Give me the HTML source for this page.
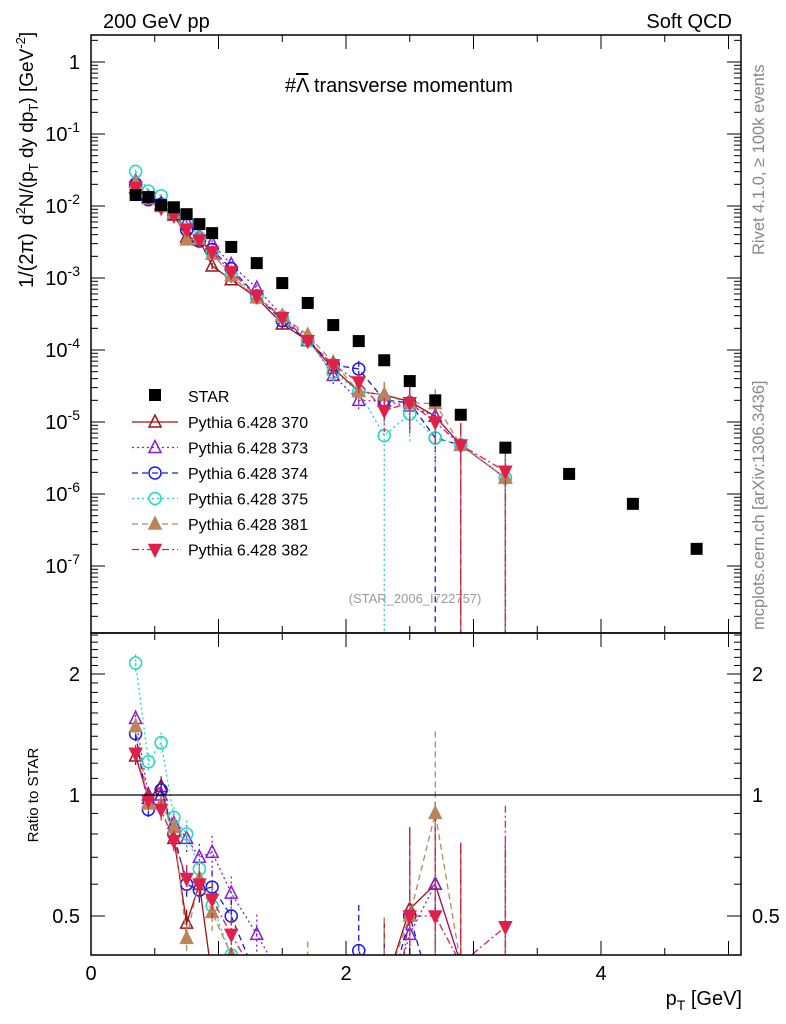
<!DOCTYPE html>
<html><head><meta charset="utf-8">
<style>
html,body{margin:0;background:#fff;overflow:hidden;width:786px;height:1024px;}
svg{display:block;font-family:"Liberation Sans",sans-serif;}
</style></head>
<body>
<svg id="c" width="786" height="1024" viewBox="0 0 786 1024" xmlns="http://www.w3.org/2000/svg">
<text x="103" y="28" font-size="20">200 GeV pp</text>
<text x="732" y="28" font-size="20" text-anchor="end">Soft QCD</text>
<text x="285" y="92" font-size="20">#<tspan text-decoration="overline">Λ</tspan> transverse momentum</text>
<text transform="translate(764,255) rotate(-90)" font-size="16.5" fill="#888">Rivet 4.1.0, ≥ 100k events</text>
<text transform="translate(764,630) rotate(-90)" font-size="16.5" fill="#888">mcplots.cern.ch [arXiv:1306.3436]</text>
<text x="415" y="603" font-size="13" fill="#999" text-anchor="middle">(STAR_2006_I722757)</text>
<text transform="translate(33,288) rotate(-90)" font-size="20">1/(2π)</text>
<text transform="translate(33,225) rotate(-90)" font-size="19">d<tspan dy="-8" font-size="13">2</tspan><tspan dy="8">N/(p</tspan><tspan dy="5" font-size="13">T</tspan><tspan dy="-5"> dy dp</tspan><tspan dy="5" font-size="13">T</tspan><tspan dy="-5">) [GeV</tspan><tspan dy="-8" font-size="13">-2</tspan><tspan dy="8">]</tspan></text>
<text transform="translate(38,795) rotate(-90)" font-size="15" text-anchor="middle">Ratio to STAR</text>
<text x="742" y="1005" font-size="20" text-anchor="end">p<tspan dy="5" font-size="14">T</tspan><tspan dy="-5"> [GeV]</tspan></text>
<g id="g"></g>
</svg>
<script>
const xBins=[0.35,0.45,0.55,0.65,0.75,0.85,0.95,1.1,1.3,1.5,1.7,1.9,2.1,2.3,2.5,2.7,2.9,3.25,3.75,4.25,4.75];
const starVals=[0.0142,0.0133,0.0103,0.0096,0.0077,0.0056,0.0042,0.0027,0.00161,0.00085,0.00045,0.000222,0.000133,7.2e-5,3.7e-5,2.0e-5,1.26e-5,4.4e-6,1.9e-6,7.3e-7,1.73e-7];
const r370=[1.25,0.98,1.05,0.78,0.48,0.6,0.35,0.35,0.33,0.27,0.3,0.25,0.2,0.33,0.52,0.6,0.38,0.38];
const r373=[1.55,1.0,1.0,0.85,0.78,0.7,0.72,0.57,0.45,0.35,0.33,0.2,0.15,0.27,0.45,0.6,0.38,0.38];
const r374=[1.42,0.92,1.03,0.8,0.6,0.58,0.59,0.5,0.35,0.3,0.3,0.28,0.41,0.28,0.5,0.3,0.38,0.38];
const r375=[2.13,1.21,1.35,0.88,0.8,0.655,0.53,0.4,0.33,0.34,0.3,0.22,0.2,0.09,0.35,0.3,0.38,0.38];
const r381=[1.48,0.95,0.95,0.83,0.44,0.62,0.51,0.4,0.33,0.35,0.36,0.3,0.2,0.33,0.5,0.9,0.38,0.38];
const r382=[1.27,0.97,0.92,0.77,0.62,0.6,0.55,0.45,0.35,0.33,0.3,0.28,0.27,0.2,0.5,0.5,0.38,0.47];
const relErr=[0.05,0.05,0.06,0.06,0.08,0.08,0.1,0.1,0.12,0.15,0.2,0.3,0.3,0.5,0.6,0.6,1.0,1.0];
const zero375=[13];
const zero374=[15];
const seriesNames=["Pythia 6.428 370","Pythia 6.428 373","Pythia 6.428 374","Pythia 6.428 375","Pythia 6.428 381","Pythia 6.428 382"];
const xTicks=[0,2,4];
const mainTicks=[0,-1,-2,-3,-4,-5,-6,-7];
const ratioTicks=[2,1,0.5];

const NS="http://www.w3.org/2000/svg";
const g=document.getElementById('g');
const L=91,R=741,MT=35,MB=633,RT=633,RB=955;
const X=v=>L+v*127.5;
const YM=v=>62-Math.log10(v)*72;
const YR=v=>795-Math.log2(v)*121;
function el(t,a,p){const e=document.createElementNS(NS,t);for(const k in a)e.setAttribute(k,a[k]);(p||g).appendChild(e);return e;}
const clipM=el('clipPath',{id:'cm'});el('rect',{x:L,y:MT,width:R-L,height:MB-MT},clipM);
const clipR=el('clipPath',{id:'cr'});el('rect',{x:L,y:RT,width:R-L,height:RB-RT},clipR);
const gm=el('g',{'clip-path':'url(#cm)'});


const gr=el('g',{'clip-path':'url(#cr)'});



const fm=el('rect',{x:L,y:MT,width:R-L,height:MB-MT,fill:'none',stroke:'#000','stroke-width':1.5});


const fr=el('rect',{x:L,y:RT,width:R-L,height:RB-RT,fill:'none',stroke:'#000','stroke-width':1.5});


const one=el('line',{x1:L,x2:R,y1:YR(1),y2:YR(1),stroke:'#000','stroke-width':1.2});



for(let v=0;v<=5.01;v+=0.5){
  const major=Math.abs(v-Math.round(v))<0.01;const len=major?14:7;
  [[MT,1],[MB,-1],[RT,1],[RB,-1]].forEach(([y,d])=>el('line',{x1:X(v),x2:X(v),y1:y,y2:y+d*len,stroke:'#000'}));
}
xTicks.forEach(v=>{const t=el('text',{x:X(v),y:980,'font-size':20,'text-anchor':'middle'});t.textContent=v;

});
for(let e=1;e>=-8;e--){for(let m=1;m<10;m++){const v=m*Math.pow(10,e);const y=YM(v);if(y<MT||y>MB)continue;
const len=m==1?14:7;el('line',{x1:L,x2:L+len,y1:y,y2:y,stroke:'#000'});el('line',{x1:R,x2:R-len,y1:y,y2:y,stroke:'#000'});}}
mainTicks.forEach(e=>{const t=el('text',{x:80,y:YM(Math.pow(10,e))+7,'font-size':20,'text-anchor':'end'});
if(e==0)t.textContent='1';else{t.textContent='10';const s=el('tspan',{dy:-9,'font-size':14},t);s.textContent=e;}

});
for(let v=0.4;v<=2.55;v+=0.1){const y=YR(v);if(y<RT||y>RB)continue;const maj=[0.5,1,2].some(q=>Math.abs(q-v)<0.01);
const len=maj?14:7;el('line',{x1:L,x2:L+len,y1:y,y2:y,stroke:'#000'});el('line',{x1:R,x2:R-len,y1:y,y2:y,stroke:'#000'});}
ratioTicks.forEach(v=>{[[80,'end'],[752,'start']].forEach(([x,a])=>{const t=el('text',{x:x,y:YR(v)+7,'font-size':20,'text-anchor':a});t.textContent=v;

});});

function marker(p,type,c,x,y,s){
  s=s||6;
  if(type=='sq')return el('rect',{x:x-s,y:y-s,width:2*s,height:2*s,fill:'#000'},p);
  if(type=='circ')return el('circle',{cx:x,cy:y,r:s,fill:'none',stroke:c,'stroke-width':1.5},p);
  if(type=='up'||type=='upf')return el('polygon',{points:`${x},${y-s-1} ${x-s},${y+s-1} ${x+s},${y+s-1}`,fill:type=='upf'?c:'none',stroke:c,'stroke-width':1.5},p);
  return el('polygon',{points:`${x},${y+s+1} ${x-s},${y-s+1} ${x+s},${y-s+1}`,fill:c,stroke:c,'stroke-width':1.5},p);
}
const cfg=[
 {r:r370,c:'#a0101a',dash:'',m:'up',z:[]},
 {r:r373,c:'#8a1ad6',dash:'2,3',m:'up',z:[]},
 {r:r374,c:'#1a1ae6',dash:'6,4',m:'circ',z:zero374},
 {r:r375,c:'#20d8c0',dash:'2,3',m:'circ',z:zero375},
 {r:r381,c:'#b8865a',dash:'6,4',m:'upf',z:[]},
 {r:r382,c:'#e0204a',dash:'7,3,2,3',m:'down',z:[]}
];
cfg.forEach((s,si)=>{
  const n=s.r.length;
  [[gm,i=>YM(s.r[i]*starVals[i]),YM(1e-9)],[gr,i=>YR(s.r[i]),YR(0.01)]].forEach(([p,fy,bot],pi)=>{
    const sg=el('g',{},p);
    
    
    let pts=[];for(let i=0;i<n;i++)pts.push(X(xBins[i])+','+fy(i));
    el('polyline',{points:pts.join(' '),fill:'none',stroke:s.c,'stroke-width':1.3,'stroke-dasharray':s.dash},sg);
    for(let i=0;i<n;i++){
      const v=s.r[i];let e=relErr[i];if(s.z.includes(i))e=1;const base=pi?v:v*starVals[i];
      const up=pi?YR(v*(1+e)):YM(base*(1+e));const lo=e>=1?bot:(pi?YR(v*(1-e)):YM(base*(1-e)));
      el('line',{x1:X(xBins[i]),x2:X(xBins[i]),y1:up,y2:lo,stroke:s.c,'stroke-width':1.3,'stroke-dasharray':s.dash},sg);
      marker(sg,s.m,s.c,X(xBins[i]),fy(i));
    }
  });
});
const sg=el('g',{},gm);


starVals.forEach((v,i)=>marker(sg,'sq','#000',X(xBins[i]),YM(v),6));
const lg=el('g',{});


const le=el('g',{},lg);


marker(le,'sq','#000',155,395,6);const t0=el('text',{x:188,y:402,'font-size':16},le);t0.textContent='STAR';
cfg.forEach((s,i)=>{const y=422+i*25.5;const e=el('g',{},lg);


el('line',{x1:132,x2:178,y1:y,y2:y,stroke:s.c,'stroke-width':1.3,'stroke-dasharray':s.dash},e);
marker(e,s.m,s.c,155,y);const t=el('text',{x:188,y:y+6,'font-size':16},e);t.textContent=seriesNames[i];});
</script>
</body></html>
